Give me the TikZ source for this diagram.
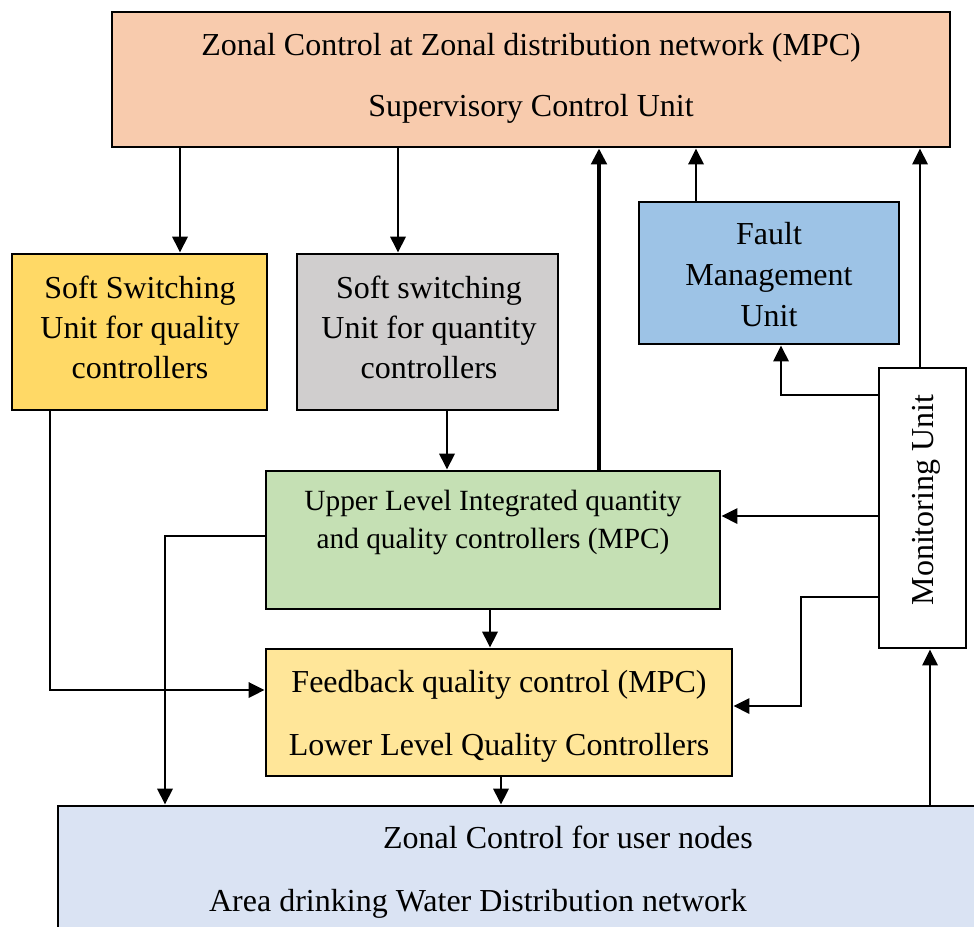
\documentclass[tikz,border=0pt]{standalone}
\usepackage{fontspec}
\setmainfont{Liberation Serif}
\usetikzlibrary{arrows.meta}
\definecolor{peach}{HTML}{F8CBAD}
\definecolor{gold}{HTML}{FFD966}
\definecolor{stone}{HTML}{D0CECE}
\definecolor{skyblue}{HTML}{9DC3E6}
\definecolor{leaf}{HTML}{C5E0B4}
\definecolor{cream}{HTML}{FFE699}
\definecolor{paleblue}{HTML}{DAE3F3}
\begin{document}
\begin{tikzpicture}[x=0.75pt,y=-0.75pt,
  box/.style={draw=black, line width=2.2pt, rectangle, inner sep=0pt},
  lbl/.style={anchor=base, inner sep=0pt, font=\fontsize{24}{29}\selectfont},
  small/.style={anchor=base, inner sep=0pt, font=\fontsize{22}{27}\selectfont},
  conn/.style={line width=1.8pt, -{Triangle[length=12pt,width=11.5pt]}},
]
\useasboundingbox (0,0) rectangle (974,926);
\clip (0,0) rectangle (974,926);

% blocks
\node[box, fill=peach,    minimum width=628.5pt, minimum height=101.25pt] (sup)   at (531,79.5) {};
\node[box, fill=gold,     minimum width=191.25pt, minimum height=117pt]   (qual)  at (139.5,332) {};
\node[box, fill=stone,    minimum width=195.75pt, minimum height=117pt]   (qty)   at (427.5,332) {};
\node[box, fill=skyblue,  minimum width=195pt,    minimum height=106.5pt] (fault) at (769,273) {};
\node[box, fill=white,    minimum width=65.25pt,  minimum height=210pt]   (mon)   at (922.5,508) {};
\node[box, fill=leaf,     minimum width=340.5pt,  minimum height=103.5pt] (upper) at (493,540) {};
\node[box, fill=cream,    minimum width=349.5pt,  minimum height=95.25pt] (fb)    at (499,712.5) {};
\node[box, fill=paleblue, minimum width=706.5pt,  minimum height=115.5pt] (bot)   at (529,883) {};

% labels
\node[lbl] (sup1) at (531,55)  {Zonal Control at Zonal distribution network (MPC)};
\node[lbl] (sup2) at (531,116) {Supervisory Control Unit};
\node[lbl] (qual1) at (140,298) {Soft Switching};
\node[lbl] (qual2) at (140,338) {Unit for quality};
\node[lbl] (qual3) at (140,378) {controllers};
\node[lbl] (qty1) at (429,298) {Soft switching};
\node[lbl] (qty2) at (429,338) {Unit for quantity};
\node[lbl] (qty3) at (429,378) {controllers};
\node[lbl] (fault1) at (769,244) {Fault};
\node[lbl] (fault2) at (769,285) {Management};
\node[lbl] (fault3) at (769,326) {Unit};
\node[lbl, rotate=90] (mon1) at (933,500) {Monitoring Unit};
\node[small] (upper1) at (493,510) {Upper Level Integrated quantity};
\node[small] (upper2) at (493,548) {and quality controllers (MPC)};
\node[lbl] (fb1) at (499,692) {Feedback quality control (MPC)};
\node[lbl] (fb2) at (499,755) {Lower Level Quality Controllers};
\node[lbl] (bot1) at (568,848) {Zonal Control for user nodes};
\node[lbl] (bot2) at (478,911) {Area drinking Water Distribution network};

% connectors
\draw[conn] (180,0 |- sup.south) -- (180,0 |- qual.north);
\draw[conn] (398,0 |- sup.south) -- (398,0 |- qty.north);
\draw[conn] (447,0 |- qty.south) -- (447,0 |- upper.north);
\draw[conn, line width=3pt] (599,0 |- upper.north) -- (599,0 |- sup.south);
\draw[conn] (696,0 |- fault.north) -- (696,0 |- sup.south);
\draw[conn] (920,0 |- mon.north) -- (920,0 |- sup.south);
\draw[conn] (mon.west |- 0,395) -| (781,0 |- fault.south);
\draw[conn] (mon.west |- 0,516) -- (upper.east |- 0,516);
\draw[conn] (mon.west |- 0,597) -| (801,0 |- 0,706) -- (fb.east |- 0,706);
\draw[conn] (upper.west |- 0,536) -| (165,0 |- bot.north);
\draw[conn] (50,0 |- qual.south) |- (fb.west |- 0,690);
\draw[conn] (490,0 |- upper.south) -- (490,0 |- fb.north);
\draw[conn] (501,0 |- fb.south) -- (501,0 |- bot.north);
\draw[conn] (930,0 |- bot.north) -- (930,0 |- mon.south);
\end{tikzpicture}
\end{document}
